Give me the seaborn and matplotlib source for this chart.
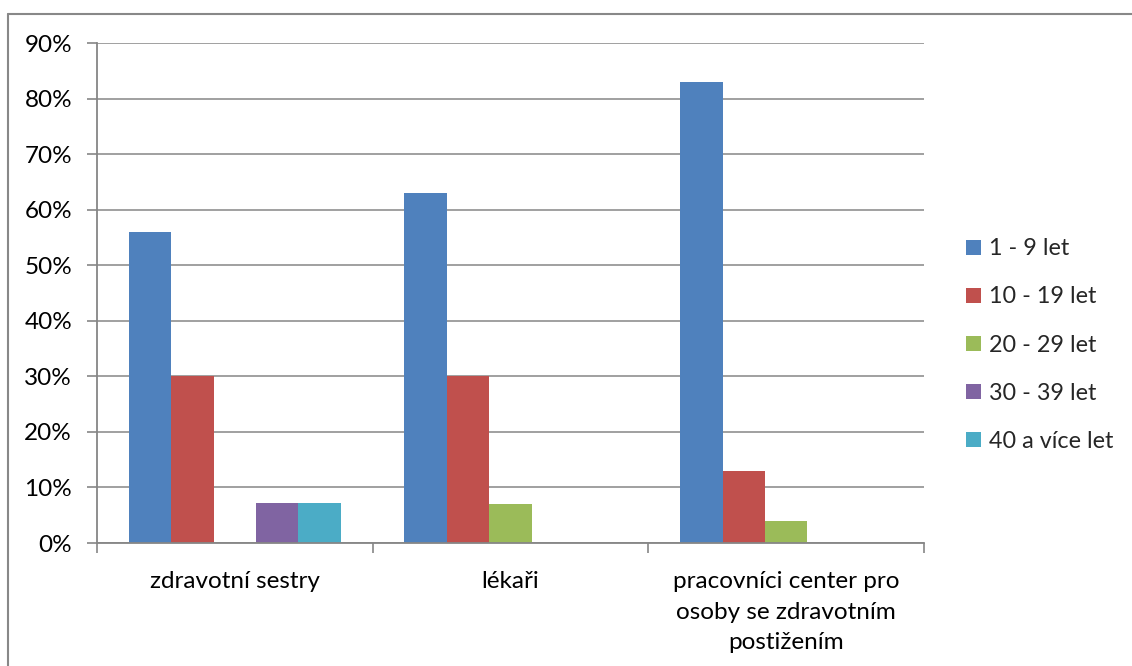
import matplotlib
matplotlib.use("Agg")
import matplotlib.pyplot as plt
from matplotlib.lines import Line2D
from matplotlib.ticker import MultipleLocator, FuncFormatter, FixedLocator
import seaborn as sns
import pandas as pd

categories = ["zdravotní sestry", "lékaři", "pracovníci center pro\nosoby se zdravotním\npostižením"]
series = ["1 - 9 let", "10 - 19 let", "20 - 29 let", "30 - 39 let", "40 a více let"]
values_1_9 = [56, 63, 83]
values_10_19 = [30, 30, 13]
values_20_29 = [0, 7, 4]
values_30_39 = [7.14, 0, 0]
values_40 = [7.14, 0, 0]
colors = ["#4F81BD", "#C0504D", "#9BBB59", "#8064A2", "#4BACC6"]

all_vals = [values_1_9, values_10_19, values_20_29, values_30_39, values_40]
rows = []
for s, vals in zip(series, all_vals):
    for c, v in zip(categories, vals):
        rows.append({"kategorie": c, "skupina": s, "hodnota": v})
df = pd.DataFrame(rows)

sns.set_theme(style="white")
plt.rcParams["font.family"] = ["Lato", "DejaVu Sans"]
FS = 17.5

fig = plt.figure(figsize=(11.32, 6.66), dpi=100)
ax = fig.add_axes([97 / 1132, 123 / 666, 827 / 1132, 500 / 666])

sns.barplot(data=df, x="kategorie", y="hodnota", hue="skupina",
            order=categories, hue_order=series, palette=colors,
            width=5 / 6.5, linewidth=0, saturation=1, ax=ax, errorbar=None)

grid_c = "#868686"
ax.set_ylim(0, 90)
ax.set_xlim(-0.5, 2.5)
ax.yaxis.set_major_locator(MultipleLocator(10))
ax.yaxis.set_major_formatter(FuncFormatter(lambda v, p: f"{int(round(v))}%"))
ax.grid(axis="y", color=grid_c, linewidth=1.1)
ax.set_axisbelow(True)
for side in ["top", "right"]:
    ax.spines[side].set_visible(False)
for side in ["left", "bottom"]:
    ax.spines[side].set_color(grid_c)
    ax.spines[side].set_linewidth(1.3)

ax.set_xlabel("")
ax.set_ylabel("")
ax.tick_params(axis="y", direction="out", length=7, width=1.2, color=grid_c,
               labelsize=FS, pad=11, left=True, labelcolor="black")
ax.tick_params(axis="x", which="major", length=0, labelsize=FS, pad=20, labelcolor="black")
ax.xaxis.set_minor_locator(FixedLocator([-0.5, 0.5, 1.5, 2.5]))
ax.tick_params(axis="x", which="minor", direction="out", length=7, width=1.2,
               color=grid_c, bottom=True)
for lbl in ax.get_xticklabels():
    lbl.set_linespacing(1.58)
    lbl.set_verticalalignment("top")

handles, labels = ax.get_legend_handles_labels()
ax.legend(handles, labels, loc="center left", bbox_to_anchor=(957 / 1132, 1 - 345 / 666),
          bbox_transform=fig.transFigure, frameon=False, fontsize=16.8,
          handlelength=0.62, handleheight=0.62, handletextpad=0.35,
          labelspacing=1.16, borderaxespad=0)

fig.add_artist(Line2D([8 / 1132, 8 / 1132], [0, 1 - 14 / 666], transform=fig.transFigure,
                      color="#888888", linewidth=1.5))
fig.add_artist(Line2D([8 / 1132, 1], [1 - 14 / 666, 1 - 14 / 666], transform=fig.transFigure,
                      color="#888888", linewidth=1.5))

fig.savefig("out.png", dpi=100, facecolor="white")
